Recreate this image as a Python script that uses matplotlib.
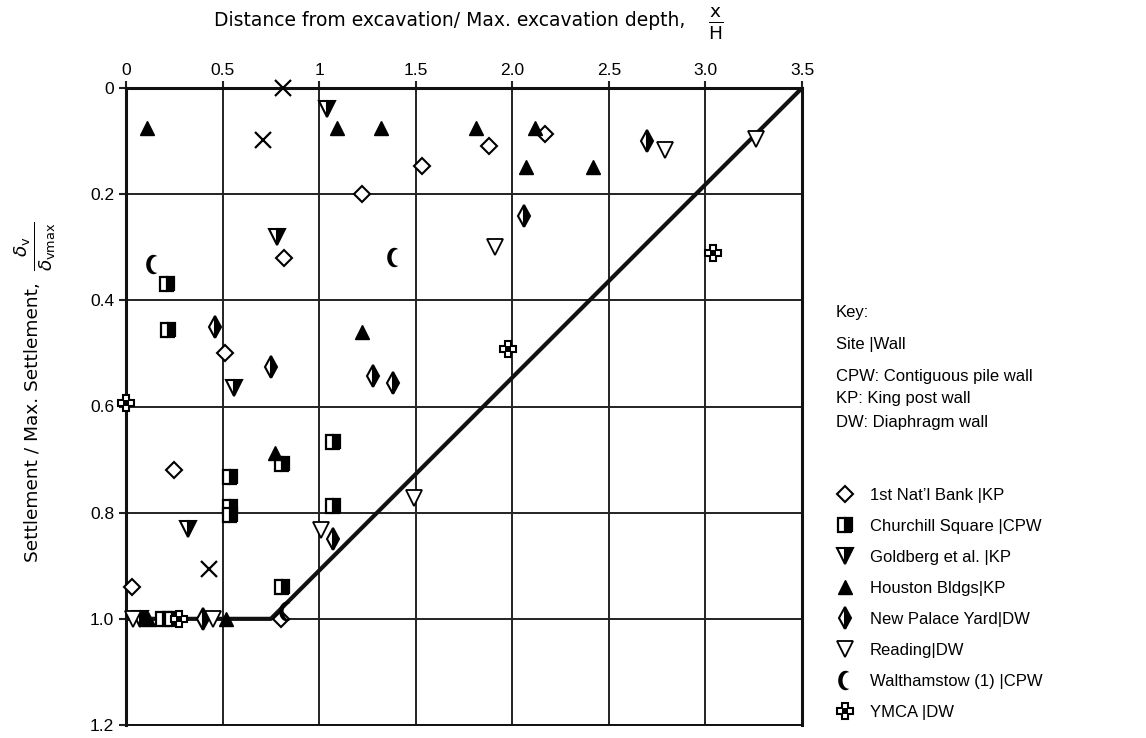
import numpy as np
import matplotlib
matplotlib.use("Agg")
import matplotlib.pyplot as plt
from matplotlib.path import Path
from matplotlib.legend_handler import HandlerTuple

# site data: x/H and settlement ratio
bank_x = [0.03, 0.25, 0.51, 0.82, 1.22, 1.53, 1.88, 2.17, 0.80]
bank_y = [0.94, 0.72, 0.50, 0.32, 0.20, 0.146, 0.109, 0.087, 1.0]

churchill_x = [0.21, 0.22, 0.54, 0.54, 0.54, 0.81, 1.07, 1.07, 0.81, 0.19, 0.24]
churchill_y = [0.37, 0.456, 0.733, 0.79, 0.805, 0.708, 0.667, 0.787, 0.94, 1.0, 1.0]

goldberg_x = [1.04, 0.78, 0.56, 0.32, 0.07]
goldberg_y = [0.04, 0.28, 0.565, 0.831, 1.0]

houston_x = [0.11, 1.09, 1.32, 1.81, 2.12, 2.07, 2.42, 1.22, 0.77, 0.115, 0.52]
houston_y = [0.076, 0.076, 0.076, 0.076, 0.076, 0.148, 0.148, 0.459, 0.688, 1.0, 1.0]

palace_x = [0.46, 0.75, 1.28, 1.38, 1.07, 2.70, 2.06, 0.40]
palace_y = [0.45, 0.525, 0.542, 0.555, 0.85, 0.10, 0.241, 1.0]

reading_x = [2.79, 3.26, 1.91, 1.49, 1.01, 0.035, 0.45]
reading_y = [0.117, 0.097, 0.30, 0.773, 0.833, 1.0, 1.0]

waltham_x = [0.14, 1.39, 0.83]
waltham_y = [0.332, 0.318, 0.985]

ymca_x = [0.0, 3.04, 1.98, 0.275]
ymca_y = [0.594, 0.31, 0.492, 1.0]

cross_x = [0.815, 0.71, 0.43]
cross_y = [0.0, 0.098, 0.907]

# bilinear envelope
env_x = [0.0, 0.75, 3.5]
env_y = [1.0, 1.0, 0.0]

x_ticks = [0, 0.5, 1, 1.5, 2.0, 2.5, 3.0, 3.5]
x_tick_labels = ["0", "0.5", "1", "1.5", "2.0", "2.5", "3.0", "3.5"]
y_ticks = [0, 0.2, 0.4, 0.6, 0.8, 1.0, 1.2]
y_tick_labels = ["0", "0.2", "0.4", "0.6", "0.8", "1.0", "1.2"]

labels = ["1st Nat\u2019l Bank |KP", "Churchill Square |CPW", "Goldberg et al. |KP",
          "Houston Bldgs|KP", "New Palace Yard|DW", "Reading|DW",
          "Walthamstow (1) |CPW", "YMCA |DW"]


def crescent_marker():
    # outer arc on unit circle, inner arc on shifted circle -> opening to the right
    a, r = 0.45, 0.85
    xi = (1 - r**2 + a**2) / (2 * a)
    t0 = np.arccos(xi)
    outer = np.linspace(t0, 2 * np.pi - t0, 40)
    ti = np.arctan2(np.sqrt(1 - xi**2), xi - a)
    inner = np.linspace(2 * np.pi - ti, ti, 40)
    vx = np.concatenate([np.cos(outer), a + r * np.cos(inner)])
    vy = np.concatenate([np.sin(outer), r * np.sin(inner)])
    verts = np.column_stack([vx * 0.75, vy])
    verts = np.vstack([verts, verts[0]])
    codes = [Path.MOVETO] + [Path.LINETO] * (len(verts) - 2) + [Path.CLOSEPOLY]
    return Path(verts, codes)


moon = crescent_marker()

plt.rcParams["font.family"] = ["Liberation Sans", "DejaVu Sans"]
plt.rcParams["mathtext.fontset"] = "dejavusans"

fig = plt.figure(figsize=(11.46, 7.38), dpi=100)
ax = fig.add_axes([126 / 1146, 1 - 725 / 738, 676 / 1146, 637 / 738])

ax.set_xlim(0, 3.5)
ax.set_ylim(1.2, 0)
ax.set_xticks(x_ticks)
ax.set_xticklabels(x_tick_labels)
ax.set_yticks(y_ticks)
ax.set_yticklabels(y_tick_labels)
ax.xaxis.tick_top()
ax.tick_params(axis="both", labelsize=12.5, length=5, width=1.5, color="#222222")
ax.tick_params(axis="x", pad=2)
ax.grid(True, color="#222222", linewidth=1.4)
ax.set_axisbelow(True)
for side in ["left", "top", "right"]:
    ax.spines[side].set_linewidth(2.2)
ax.spines["bottom"].set_linewidth(1.4)
for s in ax.spines.values():
    s.set_color("#111111")

ax.plot(env_x, env_y, color="#111111", linewidth=3, zorder=3)

kw = dict(linestyle="none", color="black", clip_on=False, zorder=4)
h_bank, = ax.plot(bank_x, bank_y, marker="D", markersize=8, markerfacecolor="white",
                  markeredgewidth=1.5, **kw)
h_church, = ax.plot(churchill_x, churchill_y, marker="s", markersize=10, fillstyle="right",
                    markerfacecolor="black", markerfacecoloralt="white", markeredgewidth=1.6, **kw)
h_gold, = ax.plot(goldberg_x, goldberg_y, marker="v", markersize=11, fillstyle="right",
                  markerfacecolor="black", markerfacecoloralt="white", markeredgewidth=1.5, **kw)
h_houston, = ax.plot(houston_x, houston_y, marker="^", markersize=10, markerfacecolor="black",
                     markeredgewidth=1, **kw)
h_palace, = ax.plot(palace_x, palace_y, marker="d", markersize=11, fillstyle="right",
                    markerfacecolor="black", markerfacecoloralt="white", markeredgewidth=1.5, **kw)
h_reading, = ax.plot(reading_x, reading_y, marker="v", markersize=11, markerfacecolor="white",
                     markeredgewidth=1.3, **kw)
h_waltham, = ax.plot(waltham_x, waltham_y, marker=moon, markersize=14, markerfacecolor="black",
                     markeredgewidth=0, **kw)
h_ymca, = ax.plot(ymca_x, ymca_y, marker="P", markersize=11, markerfacecolor="white",
                  markeredgewidth=1.5, **kw)
h_ymca2, = ax.plot(ymca_x, ymca_y, marker="s", markersize=4.5, markerfacecolor="black",
                   markeredgewidth=0, **kw)
ax.plot(cross_x, cross_y, marker="x", markersize=11, markeredgewidth=1.6, **kw)

# axis titles
fig.text(450 / 1146, 1 - 20 / 738, "Distance from excavation/ Max. excavation depth,",
         ha="center", va="center", fontsize=13.5, family="DejaVu Sans")
fig.text(716 / 1146, 1 - 24 / 738, r"$\frac{\mathrm{x}}{\mathrm{H}}$", ha="center",
         va="center", fontsize=19)
fig.text(33 / 1146, 1 - 422 / 738, "Settlement / Max. Settlement,",
         ha="center", va="center", rotation=90, fontsize=13.3, family="DejaVu Sans")
fig.text(35 / 1146, 1 - 246 / 738,
         r"$\frac{\delta_{\mathrm{v}}}{\delta_{\mathrm{vmax}}}$",
         ha="center", va="center", rotation=90, fontsize=19)

# key text
key_lines = [("Key:", 313), ("Site |Wall", 344), ("CPW: Contiguous pile wall", 376),
             ("KP: King post wall", 399), ("DW: Diaphragm wall", 422)]
for txt, py in key_lines:
    fig.text(836 / 1146, 1 - py / 738, txt, ha="left", va="center", fontsize=12)

handles = [h_bank, h_church, h_gold, h_houston, h_palace, h_reading, h_waltham,
           (h_ymca, h_ymca2)]
fig.legend(handles, labels, loc="upper left", bbox_to_anchor=(835 / 1146, 1 - 488 / 738),
           frameon=False, fontsize=12, labelspacing=0.96, handlelength=1.2,
           handletextpad=0.9, borderaxespad=0, borderpad=0, numpoints=1,
           handler_map={tuple: HandlerTuple(ndivide=1)})

fig.savefig("out.png", dpi=100)
